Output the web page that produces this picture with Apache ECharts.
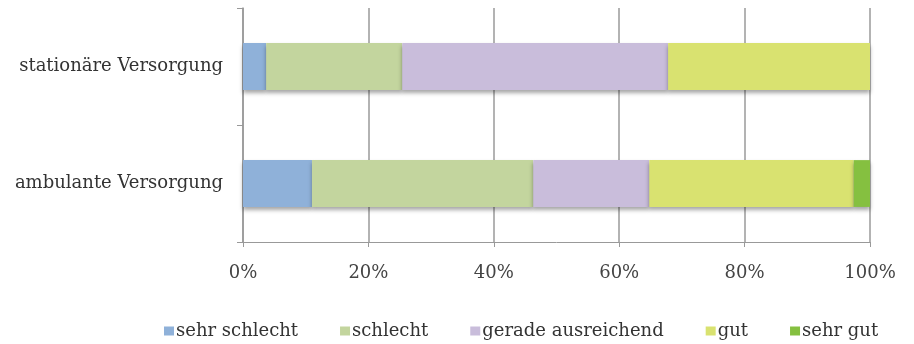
<!DOCTYPE html>
<html>
<head>
<meta charset="utf-8">
<script src="https://cdn.jsdelivr.net/npm/echarts@6/dist/echarts.min.js"></script>
<style>
html, body { margin: 0; padding: 0; background: #fff; }
#chart { width: 914px; height: 344px; }
</style>
</head>
<body>
<div id="chart"></div>
<script>
// Kategorien (unten -> oben, wie ECharts sie zeichnet)
var categories = ['ambulante Versorgung', 'stationäre Versorgung'];
var seriesNames = ['sehr schlecht', 'schlecht', 'gerade ausreichend', 'gut', 'sehr gut'];
var sehrSchlecht = [11.0, 3.7];
var schlecht = [35.3, 21.7];
var geradeAusreichend = [18.5, 42.4];
var gut = [32.6, 32.2];
var sehrGut = [2.6, 0];
var xTicks = [0, 20, 40, 60, 80, 100];

var colorList = ['#8fb1d9', '#c3d59e', '#c9bddb', '#d9e270', '#85c040'];
var values = [sehrSchlecht, schlecht, geradeAusreichend, gut, sehrGut];

var font = '"DejaVu Serif", "Liberation Serif", serif';

var series = seriesNames.map(function (name, i) {
    return {
        name: name,
        type: 'bar',
        stack: 'total',
        barWidth: '40%',
        data: values[i],
        itemStyle: {
            color: colorList[i],
            shadowColor: 'rgba(0,0,0,0.35)',
            shadowBlur: 4,
            shadowOffsetY: 3
        }
    };
});

var chart = echarts.init(document.getElementById('chart'));
chart.setOption({
    animation: false,
    backgroundColor: '#fff',
    grid: { left: 243, right: 44, top: 8, bottom: 102 },
    legend: {
        top: 317,
        left: 159,
        itemWidth: 10,
        itemHeight: 9,
        itemGap: 42,
        icon: 'rect',
        textStyle: { fontFamily: font, fontSize: 18, color: '#333', padding: [0, 0, 0, -3] },
        data: seriesNames
    },
    xAxis: {
        type: 'value',
        min: xTicks[0],
        max: xTicks[xTicks.length - 1],
        interval: 20,
        axisLine: { show: true, lineStyle: { color: '#999' } },
        axisTick: { show: true, length: 5, lineStyle: { color: '#999' } },
        splitLine: { show: true, lineStyle: { color: '#9a9a9a', width: 1.5 } },
        axisLabel: { formatter: '{value}%', fontFamily: font, fontSize: 18, color: '#444', margin: 22 }
    },
    yAxis: {
        type: 'category',
        data: categories,
        axisLine: { show: true, lineStyle: { color: '#999', width: 1.5 } },
        axisTick: { show: true, length: 6, lineStyle: { color: '#999' } },
        axisLabel: { fontFamily: font, fontSize: 18, color: '#333', margin: 20 }
    },
    series: series
});
</script>
</body>
</html>
